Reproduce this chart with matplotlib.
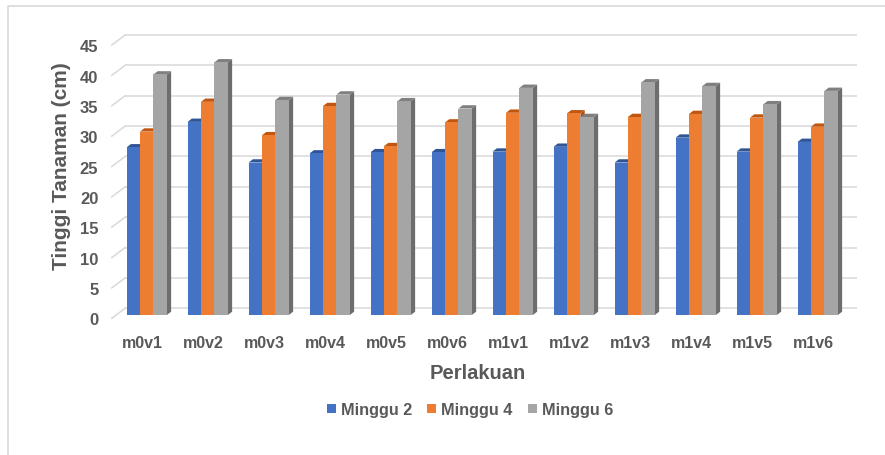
import matplotlib
matplotlib.use("Agg")
import matplotlib.pyplot as plt
import numpy as np
from matplotlib.patches import Polygon, Patch
from matplotlib.transforms import ScaledTranslation, offset_copy
from matplotlib.lines import Line2D

categories = ["m0v1", "m0v2", "m0v3", "m0v4", "m0v5", "m0v6",
              "m1v1", "m1v2", "m1v3", "m1v4", "m1v5", "m1v6"]
series_names = ["Minggu 2", "Minggu 4", "Minggu 6"]
minggu2 = [27.6, 31.8, 25.1, 26.6, 26.8, 26.8, 26.9, 27.7, 25.1, 29.2, 26.9, 28.5]
minggu4 = [30.2, 35.1, 29.6, 34.4, 27.8, 31.7, 33.3, 33.2, 32.6, 33.1, 32.5, 31.0]
minggu6 = [39.6, 41.6, 35.4, 36.3, 35.2, 34.0, 37.4, 32.6, 38.3, 37.7, 34.7, 36.9]
yticks = [0, 5, 10, 15, 20, 25, 30, 35, 40, 45]

front_colors = ["#4472C4", "#ED7D31", "#A5A5A5"]
top_colors = ["#2F5597", "#C0560F", "#7F7F7F"]
side_colors = ["#2E4F8F", "#B0520F", "#6D6D6D"]
text_color = "#595959"
grid_color = "#D9D9D9"

plt.rcParams['font.family'] = ['Liberation Sans', 'DejaVu Sans']

W, H = 885, 456
fig = plt.figure(figsize=(W / 100, H / 100), dpi=100)
fig.patch.set_facecolor("white")

# axes box (bar front plane) in pixels
ax_l, ax_r = 116.2, 848.2
ax_top, ax_bot = 42.7, 316.0
ax = fig.add_axes([ax_l / W, (H - ax_bot) / H, (ax_r - ax_l) / W, (ax_bot - ax_top) / H])
ax.set_xlim(-0.5, len(categories) - 0.5)
ax.set_ylim(0, 45)
ax.patch.set_alpha(0)
for s in ax.spines.values():
    s.set_visible(False)

px_x = (ax_r - ax_l) / len(categories)   # pixels per x unit
px_y = (ax_bot - ax_top) / 45.0            # pixels per y unit

# back wall offset and floor front offset (pixels, display coords: +y up)
back_dx, back_dy = 8.9, 6.7
front_dx, front_dy = -4.4, -3.3

back_tr = offset_copy(ax.transData, fig=fig, x=back_dx, y=back_dy, units='dots')
for v in yticks:
    ax.hlines(v, -0.5, len(categories) - 0.5, colors=grid_color, linewidth=1.1,
              transform=back_tr, zorder=1, clip_on=False)
    # side wall diagonal
    x0 = -0.5 + front_dx / px_x
    y0 = v + front_dy / px_y
    x1 = -0.5 + back_dx / px_x
    y1 = v + back_dy / px_y
    ax.add_line(Line2D([x0, x1], [y0, y1], color=grid_color, linewidth=1.1,
                       zorder=1, clip_on=False))

# bars
bw = 0.22
offsets = [-bw, 0, bw]
dep_x = 4.3 / px_x
dep_y = 3.3 / px_y
x = np.arange(len(categories))
all_series = [minggu2, minggu4, minggu6]
z = 3
for i in range(len(categories)):
    for k, vals in enumerate(all_series):
        h = vals[i]
        xl = x[i] + offsets[k] - bw / 2
        xr = xl + bw
        side = Polygon([(xr, 0), (xr + dep_x, dep_y), (xr + dep_x, h + dep_y), (xr, h)],
                       closed=True, facecolor=side_colors[k], edgecolor='none',
                       zorder=z, clip_on=False)
        top = Polygon([(xl, h), (xr, h), (xr + dep_x, h + dep_y), (xl + dep_x, h + dep_y)],
                      closed=True, facecolor=top_colors[k], edgecolor='none',
                      zorder=z, clip_on=False)
        ax.add_patch(side)
        ax.add_patch(top)
        ax.bar(xl, h, width=bw, align='edge', color=front_colors[k], zorder=z + 0.5,
               clip_on=False)
        z += 1

# ticks
ax.set_yticks(yticks)
ax.set_yticklabels([str(v) for v in yticks], fontsize=12, fontweight='bold', color=text_color)
ax.set_xticks(x)
ax.set_xticklabels(categories, fontsize=11.5, fontweight='bold', color=text_color)
ax.tick_params(axis='both', length=0)
ax.tick_params(axis='y', pad=12.9)
ax.tick_params(axis='x', pad=14.5)
for lab in ax.get_yticklabels():
    lab.set_transform(lab.get_transform() + ScaledTranslation(0, -3.5 / 100, fig.dpi_scale_trans))
for lab in ax.get_xticklabels():
    lab.set_transform(lab.get_transform() + ScaledTranslation(-4.0 / 100, 0, fig.dpi_scale_trans))

# axis titles
fig.text(61.7 / W, 1 - 166 / H, "Tinggi Tanaman (cm)", rotation=90, ha='center', va='center',
         fontsize=15, fontweight='bold', color=text_color)
fig.text(478 / W, 1 - 374 / H, "Perlakuan", ha='center', va='center',
         fontsize=14.5, fontweight='bold', color=text_color)

# legend
handles = [Patch(facecolor=c, edgecolor='none') for c in front_colors]
leg = fig.legend(handles, series_names, loc='center', bbox_to_anchor=(470 / W, 1 - 410.7 / H),
                 ncol=3, frameon=False, handlelength=0.55, handleheight=0.55,
                 handletextpad=0.3, columnspacing=0.95, prop={'size': 11.7, 'weight': 'bold'})
for t in leg.get_texts():
    t.set_color(text_color)

# outer border (left and top)
fig.add_artist(Line2D([8 / W, 8 / W, 1.0], [0.0, 1 - 7 / H, 1 - 7 / H], color=grid_color,
                      linewidth=1.2, transform=fig.transFigure))

fig.savefig("out.png", dpi=100, facecolor="white")
